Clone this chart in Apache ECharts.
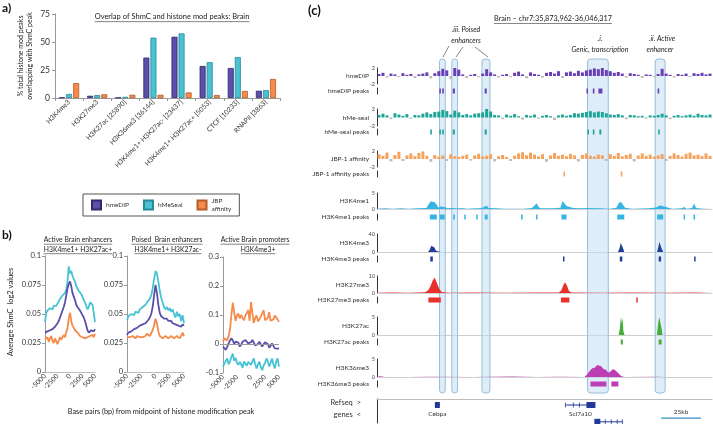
<!DOCTYPE html>
<html><head><meta charset="utf-8">
<script src="https://cdn.jsdelivr.net/npm/echarts@6/dist/echarts.min.js"></script>
<style>html,body{margin:0;padding:0;background:#fff}#c{width:713px;height:424px}</style>
</head><body><div id="c"></div><script>
// ---------------- Panel (a) data ----------------
const overlapCategories = ['H3K4me3','H3K27me3','H3K27ac [25890]','H3K36me3 [36144]','H3K4me1+ H3K27ac- [23437]','H3K4me1+ H3K27ac+ [5053]','CTCF [10233]','RNAPII [3863]'];
const overlapSeriesNames = ['hmeDIP','hMeSeal','JBP affinity'];
const hmeDIPOverlap = [0.5, 2.0, 0.4, 36.1, 54.7, 28.6, 26.8, 6.5];
const hMeSealOverlap = [3.6, 2.6, 1.0, 53.9, 57.7, 32.0, 36.6, 7.0];
const jbpOverlap = [13.3, 3.3, 2.9, 2.9, 5.0, 2.7, 6.3, 17.0];

// ---------------- Panel (b) data ----------------
const bpOffsets = [-5000,-4750,-4500,-4250,-4000,-3750,-3500,-3250,-3000,-2750,-2500,-2250,-2000,-1750,-1500,-1250,-1000,-750,-500,-250,0,250,500,750,1000,1250,1500,1750,2000,2250,2500,2750,3000,3250,3500,3750,4000,4250,4500,4750,5000];
const bpTickLabels = ['-5000','-2500','0','2500','5000'];
const activeEnhHMeSeal = [0.043,0.051,0.053,0.052,0.055,0.056,0.054,0.057,0.058,0.057,0.059,0.061,0.063,0.064,0.066,0.065,0.068,0.071,0.078,0.091,0.085,0.087,0.083,0.080,0.078,0.074,0.072,0.070,0.069,0.067,0.065,0.062,0.060,0.057,0.054,0.056,0.060,0.061,0.058,0.051,0.043];
const activeEnhHmeDIP = [0.034,0.034,0.035,0.035,0.036,0.036,0.037,0.038,0.039,0.040,0.042,0.044,0.047,0.050,0.053,0.056,0.060,0.066,0.072,0.076,0.078,0.074,0.068,0.065,0.062,0.058,0.056,0.055,0.053,0.051,0.049,0.047,0.044,0.040,0.036,0.034,0.035,0.036,0.036,0.035,0.037];
const activeEnhJBP = [0.028,0.027,0.030,0.026,0.029,0.031,0.027,0.025,0.029,0.028,0.024,0.027,0.030,0.028,0.029,0.032,0.030,0.034,0.038,0.046,0.051,0.044,0.040,0.041,0.036,0.037,0.034,0.033,0.031,0.032,0.030,0.031,0.029,0.030,0.030,0.029,0.031,0.030,0.032,0.030,0.033];
const poisedEnhHMeSeal = [0.045,0.048,0.047,0.050,0.051,0.049,0.052,0.053,0.051,0.054,0.053,0.056,0.055,0.058,0.060,0.059,0.063,0.066,0.072,0.080,0.087,0.085,0.078,0.070,0.064,0.060,0.056,0.054,0.056,0.053,0.055,0.052,0.054,0.050,0.047,0.052,0.048,0.050,0.044,0.049,0.042];
const poisedEnhHmeDIP = [0.032,0.034,0.035,0.035,0.036,0.037,0.038,0.038,0.039,0.040,0.040,0.041,0.042,0.042,0.043,0.045,0.047,0.050,0.056,0.066,0.075,0.068,0.058,0.051,0.048,0.047,0.046,0.045,0.046,0.044,0.043,0.044,0.042,0.043,0.041,0.042,0.040,0.041,0.039,0.041,0.040];
const poisedEnhJBP = [0.030,0.031,0.030,0.029,0.031,0.030,0.029,0.031,0.030,0.030,0.031,0.030,0.029,0.031,0.033,0.032,0.031,0.032,0.036,0.040,0.046,0.042,0.035,0.031,0.030,0.029,0.030,0.031,0.030,0.029,0.030,0.031,0.030,0.029,0.030,0.031,0.030,0.029,0.031,0.034,0.031];
const promoterHMeSeal = [-0.078,-0.068,-0.058,-0.05,-0.07,-0.06,-0.045,-0.033,-0.058,-0.048,-0.065,-0.072,-0.062,-0.07,-0.082,-0.06,-0.056,-0.075,-0.062,-0.068,-0.072,-0.06,-0.05,-0.07,-0.084,-0.07,-0.061,-0.08,-0.09,-0.075,-0.065,-0.05,-0.06,-0.078,-0.065,-0.05,-0.07,-0.084,-0.06,-0.05,-0.078];
const promoterHmeDIP = [-0.009,-0.015,-0.02,-0.01,0.002,0.012,0.02,0.012,0.0,0.008,0.014,0.005,-0.009,-0.002,0.008,0.01,0.014,0.008,0.002,-0.003,0.006,0.014,0.008,-0.005,-0.009,0.0,0.008,0.002,-0.009,-0.004,0.006,0.01,0.0,-0.013,-0.006,0.002,-0.004,-0.015,-0.02,-0.016,-0.015];
const promoterJBP = [0.008,0.02,0.018,0.012,0.028,0.05,0.10,0.143,0.108,0.08,0.098,0.105,0.088,0.1,0.09,0.082,0.098,0.1,0.117,0.08,0.145,0.105,0.072,0.09,0.098,0.078,0.085,0.09,0.105,0.117,0.082,0.08,0.09,0.11,0.08,0.078,0.085,0.098,0.095,0.085,0.077];

// ---------------- Panel (c) data (positions in kb from window start) ----------------
const BIN_KB = 2.5;
const hmeDIPSignal = [0.5,0.8,-0.4,0.6,0.4,-0.3,0.7,0.3,0.5,-0.5,0.4,0.6,0.9,-0.6,0.7,1.2,1.8,1.4,-0.8,2.0,1.6,0.4,-0.5,0.3,0.5,-0.3,0.6,1.7,0.9,0.4,-0.4,0.3,0.5,-0.3,0.8,1.1,0.4,-0.6,0.9,0.5,0.3,-0.4,0.8,1.0,0.6,1.2,-0.5,0.9,1.1,0.7,1.3,0.9,1.4,1.6,1.9,1.7,2.0,1.5,1.2,0.8,1.0,0.6,-0.4,0.7,0.5,0.3,-0.5,0.4,0.3,-0.3,0.5,1.8,0.6,0.3,-0.4,0.5,0.3,0.6,-0.3,0.7,0.5,0.8,0.4,0.6];
const hMeSealSignal = [0.6,0.9,0.5,-0.4,1.0,0.7,0.4,0.8,-0.3,0.6,0.5,0.9,1.2,0.8,1.3,1.4,1.8,1.5,0.7,1.6,1.2,0.6,0.8,0.5,0.9,1.0,1.2,2.0,1.4,0.6,0.5,-0.4,0.7,0.4,0.8,0.3,-0.5,0.6,0.4,0.7,-0.3,0.4,0.6,0.3,-0.6,0.5,0.7,0.4,0.6,1.0,0.9,1.1,1.3,1.5,1.2,1.4,1.3,1.0,0.7,0.6,0.8,0.5,-0.4,0.6,0.5,0.3,0.4,-0.3,0.5,0.4,0.6,0.9,0.5,-0.4,0.4,0.6,0.3,0.5,0.7,0.4,0.9,0.6,0.5,0.7];
const jbpSignal = [1.2,0.8,1.6,-0.6,1.0,1.8,-0.5,0.9,1.4,0.7,1.5,1.9,0.8,-0.7,1.0,0.6,0.9,-0.5,1.2,0.7,0.5,0.8,1.1,-0.4,0.9,1.3,0.6,0.8,1.2,-0.6,0.7,1.0,0.5,-0.5,0.8,1.4,1.7,0.9,1.6,1.1,0.6,1.2,-0.7,0.9,1.5,0.8,1.1,0.7,1.3,0.9,-0.6,1.0,1.4,0.8,0.6,1.1,0.9,-0.5,1.2,0.8,1.5,0.7,1.0,1.3,-0.6,0.9,1.4,0.8,1.1,0.6,0.9,1.2,-0.5,0.8,1.4,1.0,0.6,1.3,1.6,0.9,1.1,0.7,1.4,0.8];
const h3k4me1Signal = [[0,0.1],[5,0.2],[10,0.1],[15,0.2],[20,0.1],[25,0.2],[31,0.3],[32.5,1.6],[33.8,2.4],[35,2.7],[36.2,2.1],[37.5,1.3],[38.5,0.4],[40,0.8],[41.2,1.1],[42.5,0.6],[44,0.2],[47.5,0.3],[48.5,0.7],[49.5,0.2],[54.5,0.2],[55.2,0.5],[56,0.1],[62,0.2],[62.8,0.7],[63.5,0.2],[66,0.3],[67.5,0.8],[68.8,1.0],[70,0.3],[75,0.2],[80,0.1],[90,0.1],[90.8,0.4],[91.5,0.1],[97,0.3],[98.5,0.9],[100,1.8],[101.2,0.7],[102.5,0.2],[110,0.2],[115,0.4],[116.2,2.4],[117.5,1.8],[118.8,0.9],[120,0.5],[123,0.3],[128,0.2],[132,0.3],[140,0.2],[146,0.1],[150,0.4],[151.5,1.8],[152.8,2.3],[154,1.5],[155.5,0.4],[160,0.1],[170,0.2],[175,0.5],[176.2,1.1],[177.5,1.2],[178.8,0.9],[180,0.3],[185,0.1],[191,0.2],[192.5,0.6],[194,0.1],[197.5,0.3],[198.8,1.7],[200,0.3],[205,0.1],[210,0.1]];
const h3k4me3Signal = [[0,0],[32,0],[33.2,6],[34,14],[35,16],[36,10],[37,3],[37.6,0],[40,0],[60,0],[80,0],[100,0],[115.8,0],[116.8,3],[117.8,0],[151,0],[152,8],[152.8,20],[153.5,17],[154.2,9],[155,0],[175.5,0],[176.3,10],[177,22],[177.8,18],[178.6,6],[179.5,0],[198.3,0],[199,3],[199.7,0],[210,0]];
const h3k27me3Signal = [[0,0.2],[10,0.3],[20,0.2],[30,0.4],[32,1.5],[33.5,4],[35,7.5],[36.2,9],[37.5,6],[39,2.5],[40.5,0.6],[45,0.2],[60,0.3],[80,0.2],[100,0.3],[114,0.3],[115.5,1.5],[116.8,4.5],[117.8,6.3],[119,4.5],[120.3,1.2],[122,0.3],[140,0.2],[160,0.3],[180,0.2],[200,0.3],[210,0.2]];
const h3k27acSignal = [[0,0],[151.5,0],[152.3,2],[152.9,5],[153.4,3.5],[153.9,4.8],[154.5,1],[155.2,0],[175.5,0],[176.2,3],[176.9,5],[177.6,4.6],[178.3,2],[179,0],[198.5,0],[199,0.4],[199.5,0],[210,0]];
const h3k36me3Signal = [[0,0],[2,0.2],[5,0],[20,0],[33,0.1],[60,0],[85,0.15],[100,0],[115,0.1],[130,0],[132,0.8],[133.5,1.8],[135,2.4],[136.5,2.6],[138,3.3],[139,2.8],[140.5,3.0],[142,2.2],[143.5,2.0],[145,1.2],[146.5,1.6],[148,2.2],[149.5,1.8],[151,1.2],[153,0.3],[155,0],[175,0.1],[180,0],[210,0]];
const hmeDIPPeaks = [[39.1,40],[40.9,41.9],[47.5,48.8],[67.5,68.8],[131.3,132.2],[135.3,136.3],[138.8,141.3],[175.9,176.9]];
const hMeSealPeaks = [[33.4,34.4],[39.1,40],[40.9,41.9],[47.5,48.8],[67.5,68.8],[131.9,132.8],[135.3,136.3],[139.4,140.6],[176.3,177.2]];
const jbpPeaks = [[116.9,117.8],[152.8,153.8]];
const h3k4me1Peaks = [[33.1,37.5],[39.4,42.5],[47.8,48.8],[54.7,55.6],[62.2,63.1],[67.5,69.4],[90.3,91.3],[99.7,100.6],[115.6,118.8],[150.6,155],[175.6,179.4],[192.2,193.1],[198.4,199.4]];
const h3k4me3Peaks = [[33.4,35],[116.6,117.5],[152.2,153.8],[176.6,178.1],[198.8,199.7]];
const h3k27me3Peaks = [[32.2,40],[115.3,120.6],[162.5,163.4]];
const h3k27acPeaks = [[152.8,154.1],[176.6,178.4]];
const h3k36me3Peaks = [[133.8,143.8],[146.9,151.3]];
const highlightRegions = [[39.2,42.8],[46.9,50.5],[65.8,70.8],[132,145],[174.4,180.6]];
const refGenes = [
  {name:'Cebpa', rowY:1, span:[36.3,39.4], blocks:[[36.3,39.4]], ticks:[]},
  {name:'Scl7a10', rowY:1, span:[118.1,136.9], blocks:[[131.3,136.9]], ticks:[118.1,123.1,126.9]},
  {name:'', rowY:3.8, span:[136.3,153.8], blocks:[[136.3,140]], ticks:[143.1,146.9,150.6,153.8]}
];
const scaleBar = [[178.1, 203.1, '25kb']];

// ---------------- build ----------------
const FONT = 'Lato, "Liberation Sans", sans-serif';
const C_DIP = '#5B4FA9', C_SEAL = '#47C3D4', C_JBP = '#F58A4A';
const grids = [], xAxes = [], yAxes = [], series = [];
function addGrid(g, xa, ya){
  grids.push(Object.assign({containLabel:false, outerBoundsMode:'none'}, g));
  const i = grids.length - 1;
  xAxes.push(Object.assign({gridIndex:i}, xa));
  yAxes.push(Object.assign({gridIndex:i}, ya));
  return i;
}
const hidden = {show:false};

// Panel a
const ga = addGrid({left:55, top:14, width:225, height:84},
  {type:'category', data:overlapCategories, axisLine:{lineStyle:{color:'#9a9a9a'}}, axisTick:{show:true, length:3, lineStyle:{color:'#9a9a9a'}},
   axisLabel:{interval:0, rotate:45, fontSize:6.8, margin:3, color:'#333', fontFamily:FONT}},
  {type:'value', min:0, max:75, interval:25, axisLine:{show:true, onZero:false, lineStyle:{color:'#9a9a9a'}}, axisTick:{show:true, length:3, lineStyle:{color:'#9a9a9a'}},
   axisLabel:{fontSize:8.5, color:'#333', margin:5, fontFamily:FONT}, splitLine:hidden});
[[hmeDIPOverlap, C_DIP, '#2f2a6b'], [hMeSealOverlap, C_SEAL, '#2a8996'], [jbpOverlap, C_JBP, '#b35d2a']].forEach((s, k) => {
  series.push({type:'bar', name:overlapSeriesNames[k], data:s[0], xAxisIndex:ga, yAxisIndex:ga, barWidth:6, barGap:'18%',
    itemStyle:{color:s[1], borderColor:s[2], borderWidth:0.8}});
});

// Panel b
const bPanels = [
  {grid:{left:45, top:256, width:50, height:116}, min:0, max:0.1, interval:0.025, lines:[activeEnhHMeSeal, activeEnhHmeDIP, activeEnhJBP], zero:false},
  {grid:{left:127, top:256, width:57, height:116}, min:0, max:0.1, interval:0.025, lines:[poisedEnhHMeSeal, poisedEnhHmeDIP, poisedEnhJBP], zero:false},
  {grid:{left:223, top:257, width:56, height:116}, min:-0.1, max:0.3, interval:0.1, lines:[promoterHMeSeal, promoterHmeDIP, promoterJBP], zero:true}
];
bPanels.forEach(p => {
  const gi = addGrid(p.grid,
    {type:'value', min:-5000, max:5000, interval:2500, axisLine:{show:!p.zero, onZero:false, lineStyle:{color:'#bdbdbd'}}, axisTick:hidden, splitLine:hidden,
     axisLabel:{rotate:45, fontSize:6.8, margin:3, color:'#333', fontFamily:FONT, customValues:[-5000,-2500,0,2500,5000],
       formatter:v => bpTickLabels[Math.round((v + 5000) / 2500)], hideOverlap:false, showMinLabel:true, showMaxLabel:true}},
    {type:'value', min:p.min, max:p.max, interval:p.interval, axisLine:{show:true, onZero:false, lineStyle:{color:'#9a9a9a'}}, axisTick:{show:true, length:3, lineStyle:{color:'#9a9a9a'}},
     axisLabel:{fontSize:7.5, color:'#333', margin:4, fontFamily:FONT}, splitLine:hidden});
  [C_SEAL, C_DIP, C_JBP].forEach((col, k) => {
    const s = {type:'line', data:bpOffsets.map((x, i) => [x, p.lines[k][i]]), xAxisIndex:gi, yAxisIndex:gi, symbol:'none',
      lineStyle:{color:col, width:1.8}, itemStyle:{color:col}, z:3};
    if (k === 0 && p.zero) s.markLine = {silent:true, symbol:'none', label:hidden, lineStyle:{color:'#9a9a9a', width:1, type:'solid'}, data:[{yAxis:0}]};
    series.push(s);
  });
});

// Panel c
const C_LEFT = 377, C_W = 335, X_MAX = 210;
const cx = {type:'value', min:0, max:X_MAX, axisLine:hidden, axisTick:hidden, axisLabel:hidden, splitLine:hidden};
const go = addGrid({left:C_LEFT, top:59, width:C_W, height:334}, cx, {type:'value', min:0, max:1, show:false});
series.push({type:'custom', xAxisIndex:go, yAxisIndex:go, data:highlightRegions, z:1, silent:true,
  renderItem:(params, api) => {
    const a = api.coord([api.value(0), 1]), b = api.coord([api.value(1), 0]);
    return {type:'rect', shape:{x:a[0], y:a[1], width:b[0]-a[0], height:b[1]-a[1], r:3},
      style:{fill:'rgba(196,222,242,0.55)', stroke:'#98bedb', lineWidth:1}};
  }});

const trackDefs = [
  {label:'hmeDIP', kind:'signal', data:hmeDIPSignal, color:'#6A3FB5', min:-2, max:2, top:68, height:16},
  {label:'hmeDIP peaks', kind:'peaks', data:hmeDIPPeaks, color:'#6A3FB5', top:88},
  {label:'hMe-seal', kind:'signal', data:hMeSealSignal, color:'#1EA596', min:-2, max:2, top:109, height:17},
  {label:'hMe-seal peaks', kind:'peaks', data:hMeSealPeaks, color:'#1EA596', top:129},
  {label:'JBP-1 affinity', kind:'signal', data:jbpSignal, color:'#F5A25C', min:-2, max:2, top:151, height:16},
  {label:'JBP-1 affinity peaks', kind:'peaks', data:jbpPeaks, color:'#F5A25C', top:171},
  {label:'H3K4me1', kind:'chip', data:h3k4me1Signal, color:'#35B6E2', min:0, max:5, top:193, height:16},
  {label:'H3K4me1 peaks', kind:'peaks', data:h3k4me1Peaks, color:'#35B6E2', top:214},
  {label:'H3K4me3', kind:'chip', data:h3k4me3Signal, color:'#1F3F99', min:0, max:40, top:234, height:18},
  {label:'H3K4me3 peaks', kind:'peaks', data:h3k4me3Peaks, color:'#1F3F99', top:256},
  {label:'H3K27me3', kind:'chip', data:h3k27me3Signal, color:'#E8312B', min:0, max:10, top:276, height:17},
  {label:'H3K27me3 peaks', kind:'peaks', data:h3k27me3Peaks, color:'#E8312B', top:297},
  {label:'H3K27ac', kind:'chip', data:h3k27acSignal, color:'#45AE3A', min:0, max:5, top:317, height:18},
  {label:'H3K27ac peaks', kind:'peaks', data:h3k27acPeaks, color:'#45AE3A', top:339},
  {label:'H3K36me3', kind:'chip', data:h3k36me3Signal, color:'#BC3DB4', min:0, max:5, top:359, height:18},
  {label:'H3K36me3 peaks', kind:'peaks', data:h3k36me3Peaks, color:'#BC3DB4', top:381}
];
const trackLabels = [];
const axisBar = {show:true, onZero:false, lineStyle:{color:'#333', width:1}};
trackDefs.forEach(t => {
  if (t.kind === 'peaks') {
    const gi = addGrid({left:C_LEFT, top:t.top, width:C_W, height:6}, cx, {type:'value', min:0, max:1, axisLine:axisBar, axisTick:hidden, axisLabel:hidden, splitLine:hidden});
    series.push({type:'custom', xAxisIndex:gi, yAxisIndex:gi, data:t.data, z:3, itemStyle:{color:t.color},
      renderItem:(params, api) => {
        const a = api.coord([api.value(0), 1]), b = api.coord([api.value(1), 0]);
        return {type:'rect', shape:{x:a[0], y:a[1]+0.5, width:Math.max(b[0]-a[0], 1.5), height:b[1]-a[1]-1}, style:{fill:t.color}};
      }});
    trackLabels.push([t.label, t.top + 3]);
  } else {
    const gi = addGrid({left:C_LEFT, top:t.top, width:C_W, height:t.height},
      Object.assign({}, cx, t.kind === 'chip' ? {axisLine:{show:true, onZero:false, lineStyle:{color:'#cfcfcf', width:1}}} : {}),
      {type:'value', min:t.min, max:t.max, axisLine:axisBar, axisTick:hidden, splitLine:hidden,
       axisLabel:{customValues:[t.min, t.max], fontSize:5.5, margin:2, color:'#444', fontFamily:FONT}});
    if (t.kind === 'signal') {
      series.push({type:'bar', xAxisIndex:gi, yAxisIndex:gi, barWidth:3, z:3,
        data:t.data.map((v, i) => [i * BIN_KB + BIN_KB / 2, v]),
        itemStyle:{color:(p) => p.value[1] < 0 ? '#bdbdbd' : t.color}});
    } else {
      series.push({type:'line', xAxisIndex:gi, yAxisIndex:gi, data:t.data, symbol:'none', z:3, sampling:undefined,
        lineStyle:{color:t.color, width:0}, areaStyle:{color:t.color, opacity:1}});
    }
    trackLabels.push([t.label, t.top + t.height / 2]);
  }
});

// gene track
const gg = addGrid({left:C_LEFT, top:399, width:C_W, height:24},
  Object.assign({}, cx, {position:'top', axisLine:{show:true, onZero:false, lineStyle:{color:'#bdbdbd'}}}),
  {type:'value', min:0, max:4, inverse:true, axisLine:axisBar, axisTick:hidden, axisLabel:hidden, splitLine:hidden});
const GENE = '#23399A';
series.push({type:'custom', xAxisIndex:gg, yAxisIndex:gg, z:3, data:refGenes.map(g => [g.span[0], g.span[1], g.rowY]),
  renderItem:(params, api) => {
    const g = refGenes[params.dataIndex];
    const y = api.coord([0, g.rowY])[1];
    const x0 = api.coord([g.span[0], 0])[0], x1 = api.coord([g.span[1], 0])[0];
    const ch = [{type:'line', shape:{x1:x0, y1:y, x2:x1, y2:y}, style:{stroke:GENE, lineWidth:1}}];
    g.blocks.forEach(b => { const a = api.coord([b[0], 0])[0], c = api.coord([b[1], 0])[0];
      ch.push({type:'rect', shape:{x:a, y:y-3, width:c-a, height:6}, style:{fill:GENE}}); });
    g.ticks.forEach(tk => { const a = api.coord([tk, 0])[0];
      ch.push({type:'line', shape:{x1:a, y1:y-2.5, x2:a, y2:y+2.5}, style:{stroke:GENE, lineWidth:0.8}}); });
    if (g.name) ch.push({type:'text', x:(x0+x1)/2, y:y+9, style:{text:g.name, font:'6.5px '+FONT, fill:'#333', textAlign:'center', textVerticalAlign:'middle', align:'center', verticalAlign:'middle'}});
    return {type:'group', children:ch};
  }});
series.push({type:'custom', xAxisIndex:gg, yAxisIndex:gg, z:3, data:scaleBar.map(s => [s[0], s[1]]),
  renderItem:(params, api) => {
    const a = api.coord([api.value(0), 3.2]), b = api.coord([api.value(1), 3.2]);
    return {type:'group', children:[
      {type:'line', shape:{x1:a[0], y1:a[1], x2:b[0], y2:b[1]}, style:{stroke:'#3a8fc4', lineWidth:1.2}},
      {type:'text', x:(a[0]+b[0])/2, y:a[1]-6, style:{text:scaleBar[params.dataIndex][2], font:'6.5px '+FONT, fill:'#333', textAlign:'center', textVerticalAlign:'middle', align:'center', verticalAlign:'middle'}}
    ]};
  }});

// ---------------- graphic texts ----------------
const mctx = document.createElement('canvas').getContext('2d');
function tw(t, font){ mctx.font = font; return mctx.measureText(t).width; }
function txt(text, x, y, size, o){
  o = o || {};
  const font = (o.style || '') + ' ' + (o.weight || '') + ' ' + size + 'px ' + FONT;
  const al = o.align || 'center', va = o.va || 'middle';
  return {type:'text', x, y, rotation:o.rot || 0, z:10,
    style:{text, font, fill:o.fill || '#222', textAlign:al, textVerticalAlign:va, align:al, verticalAlign:va}};
}
function utxt(text, x, y, size, o){
  o = o || {};
  const font = (o.style || '') + ' ' + size + 'px ' + FONT;
  const w = tw(text, font);
  return [txt(text, x, y, size, o),
    {type:'line', z:10, shape:{x1:x-w/2, y1:y+size*0.62, x2:x+w/2, y2:y+size*0.62}, style:{stroke:'#333', lineWidth:0.6}}];
}
const graphic = [];
graphic.push(txt('a)', 2, 2, 12, {weight:'bold', align:'left', va:'top', fill:'#111'}));
graphic.push(txt('b)', 2, 229, 12, {weight:'bold', align:'left', va:'top', fill:'#111'}));
graphic.push(txt('(c)', 308, 4, 13, {weight:'bold', align:'left', va:'top', fill:'#111'}));
graphic.push(...utxt('Overlap of ShmC and histone mod peaks: Brain', 172, 17, 7.5));
graphic.push(txt('% total histone mod peaks', 21, 56, 7, {rot:Math.PI/2}));
graphic.push(txt('overlapping with ShmC peak', 30, 56, 7, {rot:Math.PI/2}));
graphic.push(...utxt('Active Brain enhancers', 78, 240, 6.8));
graphic.push(...utxt('H3K4me1+ H3K27ac+', 78, 249.5, 6.8));
graphic.push(...utxt('Poised  Brain enhancers', 167, 240, 6.8));
graphic.push(...utxt('H3K4me1+ H3K27ac-', 168, 249.5, 6.8));
graphic.push(...utxt('Active Brain promoters', 255, 240, 6.8));
graphic.push(...utxt('H3K4me3+', 258, 249.5, 6.8));
graphic.push(txt('Average ShmC  log2 values', 11, 312, 7.5, {rot:Math.PI/2}));
graphic.push(txt('Base pairs (bp) from midpoint of histone modification peak', 161, 412, 7.3));
graphic.push(...utxt('Brain \u2013 chr7:35,873,962-36,046,317', 553, 19, 7.3));
graphic.push(txt('.iii. Poised', 466, 30, 7, {style:'italic'}));
graphic.push(txt('enhancers', 466, 41, 7, {style:'italic'}));
graphic.push(txt('.i.', 600, 39, 7, {style:'italic'}));
graphic.push(txt('Genic, transcription', 600, 50, 7, {style:'italic'}));
graphic.push(txt('.ii. Active', 662, 39, 7, {style:'italic'}));
graphic.push(txt('enhancer', 660, 50, 7, {style:'italic'}));
[[449,46,443,57],[463,47,456,57],[475,47,488,57]].forEach(l => graphic.push({type:'line', z:10, shape:{x1:l[0], y1:l[1], x2:l[2], y2:l[3]}, style:{stroke:'#555', lineWidth:0.7}}));
trackLabels.forEach(l => graphic.push(txt(l[0], 369, l[1], 6.5, {align:'right', fill:'#333'})));
graphic.push(txt('Refseq  >', 361, 403, 7.5, {align:'right', fill:'#333'}));
graphic.push(txt('genes  <', 361, 415, 7.5, {align:'right', fill:'#333'}));

const option = {
  animation:false, backgroundColor:'#fff', textStyle:{fontFamily:FONT},
  grid:grids, xAxis:xAxes, yAxis:yAxes, series, graphic,
  legend:{data:overlapSeriesNames, left:83, top:194, orient:'horizontal', icon:'rect', itemWidth:9, itemHeight:9, itemGap:14,
    borderColor:'#555', borderWidth:1, padding:[3,8,3,8], selectedMode:false,
    textStyle:{fontSize:6.5, color:'#333', fontFamily:FONT, lineHeight:8},
    formatter:n => n === 'JBP affinity' ? 'JBP\naffinity' : n}
};
const chart = echarts.init(document.getElementById('c'), null, {renderer:'canvas'});
chart.setOption(option);
</script></body></html>
